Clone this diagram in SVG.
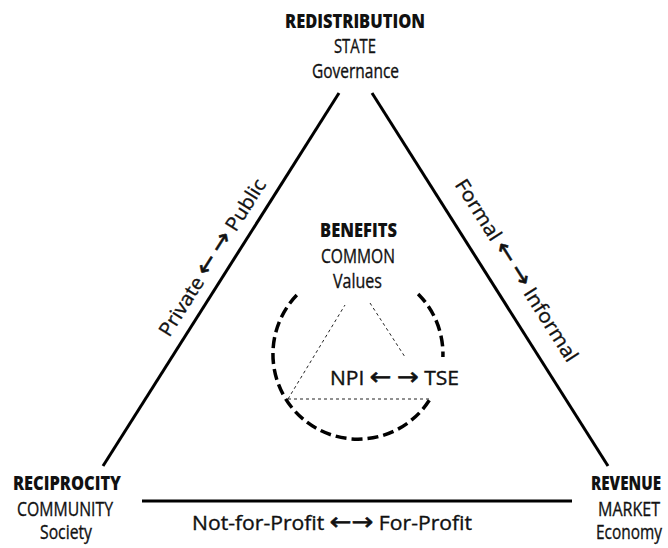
<svg xmlns="http://www.w3.org/2000/svg" width="668" height="548" viewBox="0 0 668 548">
<style>
text{font-family:"Open Sans","Liberation Sans","DejaVu Sans",sans-serif;fill:#111;text-anchor:middle}
.h{font-weight:800;font-size:19px}
.t{font-size:19.5px;stroke:#111;stroke-width:0.35}
.s{text-anchor:start}
.e{text-anchor:end}
.ar{font-family:"DejaVu Sans",sans-serif;font-size:24px;stroke-width:0.6}
.edge{stroke:#000;stroke-width:3;fill:none;stroke-linecap:butt}
.arc{stroke:#000;stroke-width:3.5;fill:none;stroke-dasharray:11 5}
.thin{stroke:#222;stroke-width:1;fill:none;stroke-dasharray:3 3}
</style>
<rect width="668" height="548" fill="#fff"/>
<g id="connectors">
<line class="edge" x1="339" y1="93" x2="103" y2="466"/>
<line class="edge" x1="372" y1="93" x2="608" y2="466"/>
<line class="edge" x1="142" y1="501" x2="572" y2="501"/>
<text class="t" transform="translate(218,261) rotate(-57.7)" textLength="182" lengthAdjust="spacingAndGlyphs">Private <tspan class="ar">←</tspan> <tspan class="ar">→</tspan> Public</text>
<text class="t" transform="translate(511,274) rotate(57.7)" textLength="212" lengthAdjust="spacingAndGlyphs">Formal <tspan class="ar">←</tspan> <tspan class="ar">→</tspan> Informal</text>
<text class="t" x="332" y="530" textLength="280" lengthAdjust="spacingAndGlyphs">Not-for-Profit <tspan class="ar">←→</tspan> For-Profit</text>
</g>
<g id="redistribution">
<text class="h" x="355" y="28" textLength="140" lengthAdjust="spacingAndGlyphs">REDISTRIBUTION</text>
<text class="t" x="355" y="53" textLength="42" lengthAdjust="spacingAndGlyphs">STATE</text>
<text class="t" x="355.5" y="78" textLength="87" lengthAdjust="spacingAndGlyphs">Governance</text>
</g>
<g id="reciprocity">
<text class="h s" x="13" y="490" textLength="108" lengthAdjust="spacingAndGlyphs">RECIPROCITY</text>
<text class="t s" x="17" y="516" textLength="96" lengthAdjust="spacingAndGlyphs">COMMUNITY</text>
<text class="t s" x="40" y="539" textLength="52" lengthAdjust="spacingAndGlyphs">Society</text>
</g>
<g id="revenue">
<text class="h e" x="661" y="490" textLength="70" lengthAdjust="spacingAndGlyphs">REVENUE</text>
<text class="t e" x="660" y="516" textLength="62" lengthAdjust="spacingAndGlyphs">MARKET</text>
<text class="t e" x="662" y="539" textLength="66" lengthAdjust="spacingAndGlyphs">Economy</text>
</g>
<g id="benefits">
<text class="h" x="358.5" y="237" textLength="77" lengthAdjust="spacingAndGlyphs">BENEFITS</text>
<text class="t" x="358" y="263" textLength="74" lengthAdjust="spacingAndGlyphs">COMMON</text>
<text class="t" x="357.5" y="288" textLength="49" lengthAdjust="spacingAndGlyphs">Values</text>
<path class="arc" d="M418.1,293.9 A85,85 0 0 1 442.9,357"/>
<path class="arc" d="M429.3,400.3 A85,85 0 1 1 299.5,292.4"/>
<path class="thin" d="M288,399 L345,305 M370,303 L405,357 M288,399 L431,399"/>
</g>
<g id="npi-tse">
<text class="t" x="394.5" y="385" textLength="129" lengthAdjust="spacingAndGlyphs">NPI <tspan class="ar">←</tspan> <tspan class="ar">→</tspan> TSE</text>
</g>
</svg>
